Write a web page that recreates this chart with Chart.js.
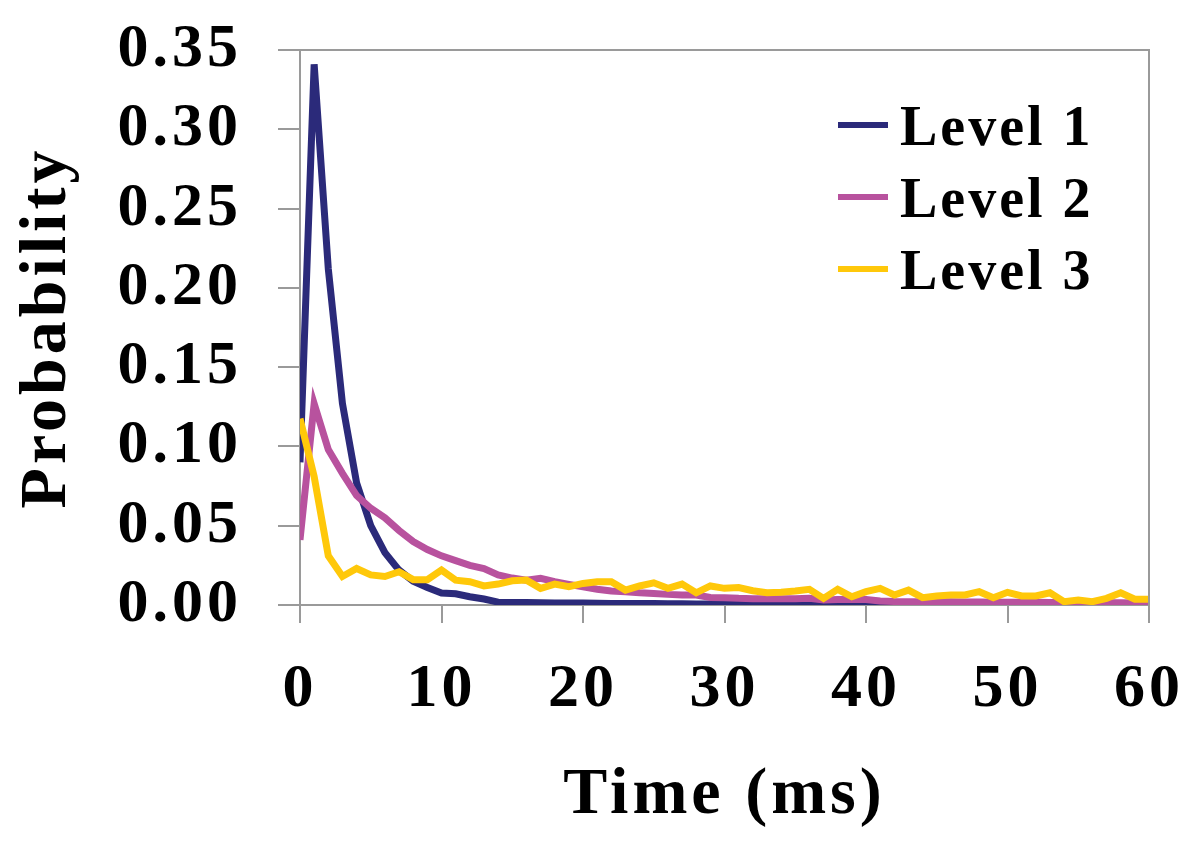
<!DOCTYPE html>
<html>
<head>
<meta charset="utf-8">
<script src="https://cdn.jsdelivr.net/npm/chart.js@4.4.1/dist/chart.umd.min.js"></script>
<style>
  body { margin: 0; background: #fff; }
  #wrap { position: relative; width: 1200px; height: 846px; }
  #legend { position: absolute; left: 838px; top: 90px; font-family: "Liberation Serif", serif; font-weight: bold; font-size: 56px; letter-spacing: 3px; color: #000; }
  .row { position: relative; height: 72px; line-height: 72px; padding-left: 62px; white-space: nowrap; }
  .swatch { position: absolute; left: 0; top: 32px; width: 50px; height: 6px; }
</style>
</head>
<body>
<div id="wrap">
  <canvas id="chart"></canvas>
  <div id="legend"></div>
</div>
<script>
// Time (ms)
const times = [0, 1, 2, 3, 4, 5, 6, 7, 8, 9, 10, 11, 12, 13, 14, 15, 16, 17, 18, 19, 20,
  21, 22, 23, 24, 25, 26, 27, 28, 29, 30, 31, 32, 33, 34, 35, 36, 37, 38, 39, 40,
  41, 42, 43, 44, 45, 46, 47, 48, 49, 50, 51, 52, 53, 54, 55, 56, 57, 58, 59, 60];

const level1 = [0.090, 0.341, 0.212, 0.127, 0.077, 0.050, 0.033, 0.022, 0.015, 0.011, 0.0075,
  0.0071, 0.0052, 0.0038, 0.0018, 0.0016, 0.0015, 0.0014, 0.0013, 0.0012, 0.0012,
  0.0011, 0.0010, 0.0010, 0.0009, 0.0009, 0.0008, 0.0008, 0.0007, 0.0007, 0.0006,
  0.0006, 0.0005, 0.0005, 0.0005, 0.0004, 0.0004, 0.0003, 0.0003, 0.0003, 0.0002,
  0.0002, 0.0002, 0.0002, 0.0001, 0.0001, 0.0001, 0.0001, 0.0001, 0.0001, 0.0001,
  0.0001, 0.0001, 0.0001, 0.0001, 0.0001, 0.0001, 0.0001, 0.0001, 0.0001, 0.0001];

const level2 = [0.041, 0.127, 0.098, 0.083, 0.069, 0.061, 0.055, 0.047, 0.040, 0.035, 0.031,
  0.028, 0.025, 0.023, 0.019, 0.017, 0.0157, 0.0168, 0.0147, 0.013, 0.0115,
  0.0099, 0.0088, 0.0084, 0.0077, 0.0073, 0.0067, 0.0063, 0.0063, 0.0048, 0.0046,
  0.0042, 0.0040, 0.0040, 0.0040, 0.0040, 0.0042, 0.0032, 0.0034, 0.0035, 0.0035,
  0.0025, 0.0022, 0.0021, 0.0020, 0.0020, 0.0020, 0.0019, 0.0019, 0.0018, 0.0018,
  0.0017, 0.0017, 0.0016, 0.0016, 0.0015, 0.0015, 0.0014, 0.0014, 0.0013, 0.0013];

const level3 = [0.1175, 0.081, 0.031, 0.018, 0.023, 0.019, 0.018, 0.021, 0.016, 0.016, 0.022,
  0.0157, 0.0147, 0.012, 0.0132, 0.0153, 0.0157, 0.0105, 0.0132, 0.0115, 0.0136,
  0.0147, 0.0147, 0.0094, 0.012, 0.014, 0.0105, 0.0132, 0.0077, 0.012, 0.0105,
  0.011, 0.009, 0.0077, 0.0081, 0.0088, 0.0099, 0.0042, 0.0099, 0.0052, 0.0084,
  0.0105, 0.0063, 0.0094, 0.0046, 0.0057, 0.0063, 0.0063, 0.0084, 0.0046, 0.008,
  0.0057, 0.0057, 0.0077, 0.0021, 0.0031, 0.0021, 0.0042, 0.0077, 0.0036, 0.0036];

const seriesNames = ['Level 1', 'Level 2', 'Level 3'];
const seriesColors = ['#2b2a7a', '#b8529e', '#ffc80a'];
const xTicks = [0, 10, 20, 30, 40, 50, 60];
const yTicks = [0, 0.05, 0.10, 0.15, 0.20, 0.25, 0.30, 0.35];

const serif = '"Liberation Serif", "Times New Roman", serif';
const axisGray = '#9a9a9a';

function points(values) {
  return times.map((t, i) => ({ x: t, y: values[i] }));
}

const allSeries = [level1, level2, level3];
const datasets = allSeries.map((vals, i) => ({
  label: seriesNames[i],
  data: points(vals),
  borderColor: seriesColors[i],
  backgroundColor: seriesColors[i],
  borderWidth: 7,
  pointRadius: 0,
  tension: 0,
  order: 2 - i
}));

// box around the plot (top and right edges)
const frame = {
  id: 'frame',
  beforeDraw(chart) {
    chart.ctx.letterSpacing = '4px';
  },
  afterDraw(chart) {
    const a = chart.chartArea;
    const ctx = chart.ctx;
    ctx.save();
    ctx.strokeStyle = axisGray;
    ctx.lineWidth = 2;
    ctx.beginPath();
    ctx.moveTo(a.left, a.top);
    ctx.lineTo(a.right, a.top);
    ctx.lineTo(a.right, a.bottom);
    ctx.stroke();
    ctx.restore();
  }
};

const chart = new Chart(document.getElementById('chart'), {
  type: 'line',
  data: { datasets: datasets },
  options: {
    responsive: true,
    maintainAspectRatio: false,
    animation: false,
    layout: { padding: { left: 0, right: 51, top: 50, bottom: 0 } },
    plugins: {
      legend: { display: false },
      tooltip: { enabled: false }
    },
    scales: {
      x: {
        type: 'linear',
        min: 0,
        max: 60,
        afterBuildTicks: s => { s.ticks = xTicks.map(v => ({ value: v })); },
        afterFit: s => { s.height = 241; s.paddingLeft = 0; s.paddingRight = 0; },
        ticks: {
          color: '#000',
          padding: 30,
          maxRotation: 0,
          autoSkip: false,
          font: { family: serif, size: 62, weight: 'bold' }
        },
        grid: { drawOnChartArea: false, tickLength: 18, color: axisGray, lineWidth: 2 },
        border: { color: axisGray, width: 2 },
        title: {
          display: true,
          text: 'Time (ms)',
          color: '#000',
          padding: { top: 0, bottom: 10 },
          font: { family: serif, size: 66, weight: 'bold' }
        }
      },
      y: {
        min: 0,
        max: 0.35,
        afterBuildTicks: s => { s.ticks = yTicks.map(v => ({ value: v })); },
        afterFit: s => { s.width = 300; s.paddingTop = 0; s.paddingBottom = 0; },
        ticks: {
          color: '#000',
          padding: 36,
          autoSkip: false,
          callback: v => v.toFixed(2),
          font: { family: serif, size: 62, weight: 'bold' }
        },
        grid: { drawOnChartArea: false, tickLength: 22, color: axisGray, lineWidth: 2 },
        border: { color: axisGray, width: 2 },
        title: {
          display: true,
          text: 'Probability',
          color: '#000',
          padding: { top: 8, bottom: 0 },
          font: { family: serif, size: 66, weight: 'bold' }
        }
      }
    }
  },
  plugins: [frame]
});

// legend built from the same series names and colours
const legendEl = document.getElementById('legend');
seriesNames.forEach((name, i) => {
  const row = document.createElement('div');
  row.className = 'row';
  const sw = document.createElement('span');
  sw.className = 'swatch';
  sw.style.background = seriesColors[i];
  row.appendChild(sw);
  row.appendChild(document.createTextNode(name));
  legendEl.appendChild(row);
});
</script>
</body>
</html>
